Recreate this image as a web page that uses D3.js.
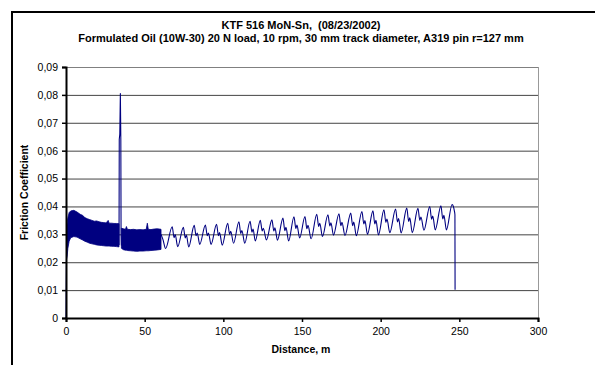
<!DOCTYPE html>
<html>
<head>
<meta charset="utf-8">
<script src="https://cdn.jsdelivr.net/npm/d3@7"></script>
<style>
  html, body { margin: 0; padding: 0; background: #fff; }
  svg { display: block; font-family: "Liberation Sans", Arial, sans-serif; }
</style>
</head>
<body>
<svg id="chart" width="595" height="365"></svg>
<script>
const titleLines = [
  "KTF 516 MoN-Sn,  (08/23/2002)",
  "Formulated Oil (10W-30) 20 N load, 10 rpm, 30 mm track diameter, A319 pin r=127 mm"
];
const xTitle = "Distance, m";
const yTitle = "Friction Coefficient";
const xTicks = [0, 50, 100, 150, 200, 250, 300];
const yTicks = [0, 0.01, 0.02, 0.03, 0.04, 0.05, 0.06, 0.07, 0.08, 0.09];

// run-in from zero
const leadIn = [[0, 0], [0.15, 0.012], [0.3, 0.021]];

// dense oscillation, 0-34 m: [distance, low, high]
const bandA = [
  [0.3, 0.0210, 0.0290], [0.7, 0.0220, 0.0340], [1.2, 0.0250, 0.0360],
  [2.0, 0.0275, 0.0378], [3.0, 0.0288, 0.0384], [5.0, 0.0292, 0.0386],
  [7.0, 0.0290, 0.0380], [9.0, 0.0284, 0.0372], [10.5, 0.0280, 0.0368],
  [12.0, 0.0275, 0.0360], [13.5, 0.0272, 0.0356], [15.0, 0.0268, 0.0353],
  [16.5, 0.0266, 0.0350], [18.0, 0.0264, 0.0347], [19.5, 0.0262, 0.0348],
  [21.0, 0.0261, 0.0345], [22.5, 0.0260, 0.0343], [24.0, 0.0259, 0.0342],
  [25.5, 0.0258, 0.0341], [26.8, 0.0258, 0.0350], [27.4, 0.0258, 0.0340],
  [29.0, 0.0257, 0.0340], [30.5, 0.0257, 0.0339], [32.0, 0.0256, 0.0339],
  [33.7, 0.0255, 0.0338]
];

// friction spike near 34 m
const spike = [
  [33.7, 0.0262], [33.85, 0.0640], [34.2, 0.0660], [34.55, 0.0805],
  [34.85, 0.0640], [35.0, 0.0300], [35.2, 0.0260]
];

// dense oscillation, 35-60 m: [distance, low, high]
const bandB = [
  [35.2, 0.0250, 0.0322], [36.5, 0.0245, 0.0320], [37.8, 0.0243, 0.0318],
  [38.4, 0.0243, 0.0328], [39.0, 0.0242, 0.0318], [41.0, 0.0241, 0.0317],
  [43.0, 0.0240, 0.0318], [45.0, 0.0239, 0.0316], [47.0, 0.0240, 0.0317],
  [49.0, 0.0240, 0.0316], [51.0, 0.0241, 0.0318], [51.7, 0.0241, 0.0340],
  [52.3, 0.0241, 0.0318], [54.0, 0.0242, 0.0317], [56.0, 0.0243, 0.0319],
  [58.0, 0.0244, 0.0320], [60.4, 0.0246, 0.0318]
];

// slow cycles, 60-247 m
const cycleTrace = [
  [60.4, .0300], [61.6, .0282], [63.3, .0249],
  [67.5, .0327], [68.7, .0288], [69.4, .0299], [71.0, .0256],
  [74.6, .0325], [75.8, .0287], [76.5, .0297], [78.0, .0255],
  [81.5, .0332], [82.7, .0295], [83.4, .0305], [85.0, .0264],
  [88.6, .0333], [89.8, .0295], [90.5, .0305], [92.2, .0264],
  [95.7, .0336], [96.9, .0295], [97.6, .0306], [99.3, .0261],
  [102.8, .0340], [104.0, .0300], [104.7, .0311], [106.5, .0268],
  [109.9, .0345], [111.1, .0303], [111.8, .0314], [113.6, .0268],
  [117.0, .0347], [118.2, .0308], [118.9, .0319], [120.3, .0276],
  [123.5, .0350], [124.7, .0312], [125.4, .0322], [127.4, .0280],
  [130.9, .0352], [132.1, .0312], [132.8, .0323], [134.4, .0279],
  [137.9, .0358], [139.1, .0313], [139.8, .0325], [141.5, .0276],
  [144.9, .0363], [146.1, .0321], [146.8, .0333], [148.5, .0287],
  [151.9, .0364], [153.1, .0320], [153.8, .0332], [155.8, .0284],
  [159.4, .0372], [160.6, .0328], [161.3, .0340], [163.0, .0292],
  [166.5, .0370], [167.7, .0330], [168.4, .0341], [170.0, .0297],
  [173.5, .0374], [174.7, .0331], [175.4, .0343], [177.3, .0296],
  [181.0, .0376], [182.2, .0331], [182.9, .0344], [184.5, .0295],
  [188.1, .0382], [189.3, .0337], [190.0, .0349], [191.6, .0300],
  [195.1, .0384], [196.3, .0337], [197.0, .0350], [198.6, .0298],
  [202.1, .0388], [203.3, .0343], [204.0, .0355], [205.8, .0306],
  [209.5, .0391], [210.7, .0344], [211.4, .0357], [213.0, .0305],
  [216.6, .0394], [217.8, .0346], [218.5, .0359], [220.1, .0306],
  [223.7, .0393], [224.9, .0350], [225.6, .0362], [227.5, .0315],
  [231.2, .0400], [232.4, .0354], [233.1, .0366], [234.7, .0316],
  [238.3, .0402], [239.5, .0355], [240.2, .0368], [241.8, .0316],
  [245.4, .0407], [246.2, .0400], [246.8, .0385], [247.2, .0370], [247.3, .0101]
];

const svg = d3.select("#chart");
const plot = { left: 66, right: 538, top: 67, bottom: 318 };
const navy = "#000080";

const x = d3.scaleLinear().domain([0, 300]).range([plot.left, plot.right]);
const y = d3.scaleLinear().domain([0, 0.09]).range([plot.bottom, plot.top]);

// chart frame (runs off the right and bottom edges)
svg.append("rect")
  .attr("x", 12).attr("y", 12).attr("width", 700).attr("height", 500)
  .attr("fill", "#fff").attr("stroke", "#000").attr("stroke-width", 2);

// titles
svg.append("g").selectAll("text")
  .data(titleLines)
  .enter().append("text")
  .attr("x", 301)
  .attr("y", (d, i) => 29 + i * 13)
  .attr("text-anchor", "middle")
  .attr("font-size", 11)
  .attr("font-weight", "bold")
  .style("white-space", "pre")
  .text(d => d);

// gridlines
const grid = svg.append("g")
  .attr("transform", `translate(${plot.left},0)`)
  .call(d3.axisLeft(y).tickValues(yTicks.slice(1)).tickSize(-(plot.right - plot.left)).tickFormat(""));
grid.select(".domain").remove();
grid.selectAll("line").attr("stroke", d => d === 0.09 ? "#808080" : "#444").attr("stroke-width", 1);

// plot area right edge
svg.append("line")
  .attr("x1", plot.right + 0.5).attr("x2", plot.right + 0.5)
  .attr("y1", plot.top).attr("y2", plot.bottom)
  .attr("stroke", "#999");

// series
const line = d3.line().x(d => x(d[0])).y(d => y(d[1]));
const smooth = d3.line().x(d => x(d[0])).y(d => y(d[1])).curve(d3.curveMonotoneX);
const band = d3.area().x(d => x(d[0])).y0(d => y(d[1])).y1(d => y(d[2]));

svg.append("g").selectAll("path.band")
  .data([bandA, bandB])
  .enter().append("path")
  .attr("class", "band")
  .attr("d", band)
  .attr("fill", navy)
  .attr("stroke", navy)
  .attr("stroke-width", 0.8);

svg.append("g").selectAll("path.trace")
  .data([leadIn, spike])
  .enter().append("path")
  .attr("class", "trace")
  .attr("d", line)
  .attr("fill", "none")
  .attr("stroke", navy)
  .attr("stroke-width", 1.1)
  .attr("stroke-linejoin", "round");

svg.append("path")
  .datum(cycleTrace)
  .attr("d", smooth)
  .attr("fill", "none")
  .attr("stroke", navy)
  .attr("stroke-width", 1.1)
  .attr("stroke-linejoin", "round");

// axes
const fmt = v => v === 0 ? "0" : d3.format(".2f")(v).replace(".", ",");

const yAxis = svg.append("g")
  .attr("transform", `translate(${plot.left},0)`)
  .call(d3.axisLeft(y).tickValues(yTicks).tickSize(4).tickPadding(4).tickFormat(fmt));

const xAxis = svg.append("g")
  .attr("transform", `translate(0,${plot.bottom})`)
  .call(d3.axisBottom(x).tickValues(xTicks).tickSize(4).tickPadding(6).tickFormat(d3.format("d")));

[yAxis, xAxis].forEach(g => {
  g.attr("font-family", null).attr("font-size", null);
  g.select(".domain").attr("stroke", "#000").attr("stroke-width", 2);
  g.selectAll(".tick line").attr("stroke", "#000").attr("stroke-width", 1.5);
  g.selectAll(".tick text").attr("fill", "#000").attr("font-size", 10.5);
});

// axis titles
svg.append("text")
  .attr("x", 301).attr("y", 353)
  .attr("text-anchor", "middle")
  .attr("font-size", 10.5).attr("font-weight", "bold")
  .text(xTitle);

svg.append("text")
  .attr("transform", `translate(28,${(plot.top + plot.bottom) / 2}) rotate(-90)`)
  .attr("text-anchor", "middle")
  .attr("font-size", 10.5).attr("font-weight", "bold")
  .text(yTitle);
</script>
</body>
</html>
